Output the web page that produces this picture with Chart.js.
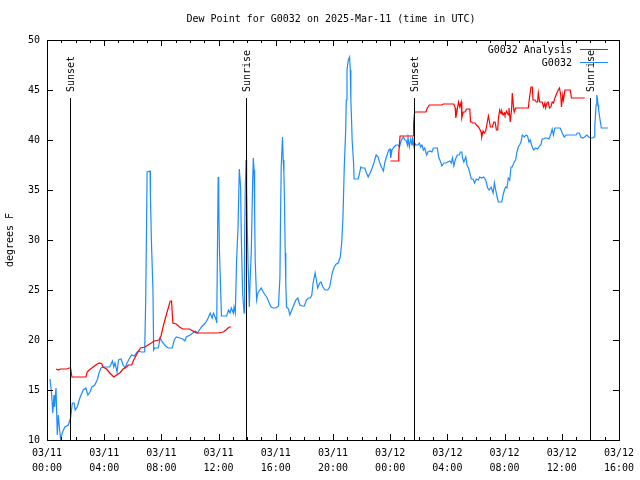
<!DOCTYPE html>
<html>
<head>
<meta charset="utf-8">
<script src="https://cdn.jsdelivr.net/npm/chart.js@4/dist/chart.umd.min.js"></script>
<style>
  html, body { margin: 0; padding: 0; background: #fff; }
</style>
</head>
<body>
<canvas id="myChart" width="640" height="480"></canvas>
<script>
// time is hours since 03/11 00:00 UTC
var chartTitle = 'Dew Point for G0032 on 2025-Mar-11 (time in UTC)';
var tickDates = ['03/11', '03/11', '03/11', '03/11', '03/11', '03/11', '03/12', '03/12', '03/12', '03/12', '03/12'];
var tickTimes = ['00:00', '04:00', '08:00', '12:00', '16:00', '20:00', '00:00', '04:00', '08:00', '12:00', '16:00'];

var sunTimes = [1.62, 13.94, 25.64, 37.98];
var sunLabels = ['Sunset', 'Sunrise', 'Sunset', 'Sunrise'];

// G0032 observations [hour, degF]
var stationObs = [
  [0.21,16.1],[0.33,14.5],[0.40,12.7],[0.49,14.5],[0.53,13.3],[0.63,15.2],[0.72,10.5],[0.79,12.5],[0.86,11.3],[0.95,10.1],
  [1.09,10.8],[1.25,11.3],[1.49,11.5],[1.65,12.2],[1.77,13.7],[1.90,13.7],[1.97,13.0],[2.11,13.3],[2.30,14.2],[2.53,15.0],
  [2.72,15.2],[2.86,14.5],[3.00,14.8],[3.14,15.3],[3.34,15.5],[3.51,16.0],[3.64,16.7],[3.78,17.2],[3.92,17.3],[4.16,17.3],
  [4.39,17.3],[4.58,17.9],[4.67,17.3],[4.76,17.7],[4.90,16.8],[5.00,18.0],[5.18,18.1],[5.32,17.5],[5.46,17.2],[5.60,17.7],
  [5.78,18.2],[5.92,18.5],[6.11,18.4],[6.25,18.7],[6.39,18.9],[6.60,18.8],[6.83,18.8],[6.90,23.7],[6.97,32.3],[7.00,36.8],
  [7.21,36.9],[7.23,34.7],[7.30,30.0],[7.41,25.0],[7.46,19.0],[7.53,19.2],[7.78,19.2],[7.92,20.2],[8.06,19.8],[8.29,19.4],
  [8.48,19.2],[8.76,19.2],[8.90,20.0],[9.04,20.3],[9.27,20.2],[9.50,20.1],[9.64,19.9],[9.74,20.3],[10.01,20.5],[10.20,20.7],
  [10.38,20.9],[10.52,20.7],[10.66,21.0],[10.80,21.3],[10.94,21.5],[11.13,21.8],[11.27,22.2],[11.41,22.7],[11.55,22.2],[11.64,22.7],
  [11.73,22.4],[11.83,22.0],[11.87,21.7],[11.97,36.3],[12.01,34.0],[12.06,29.0],[12.20,22.4],[12.56,22.4],[12.70,23.0],[12.80,22.7],
  [12.89,23.2],[13.03,22.7],[13.08,23.3],[13.17,22.7],[13.26,28.0],[13.36,31.3],[13.45,37.1],[13.54,35.3],[13.59,30.3],[13.68,24.7],
  [13.78,22.7],[13.82,30.3],[13.87,35.3],[13.92,38.0],[13.96,35.5],[14.01,31.0],[14.06,27.7],[14.15,23.3],[14.20,25.7],[14.29,29.0],
  [14.38,35.7],[14.43,38.2],[14.48,37.0],[14.52,33.0],[14.56,28.0],[14.66,24.0],[14.75,24.7],[14.98,25.2],[15.12,24.8],[15.26,24.5],
  [15.40,24.2],[15.54,23.7],[15.68,23.3],[15.82,23.2],[16.01,23.2],[16.19,23.4],[16.29,26.3],[16.33,32.0],[16.38,37.3],[16.47,40.3],
  [16.52,38.0],[16.57,36.7],[16.61,33.7],[16.66,28.7],[16.70,25.7],[16.75,23.3],[16.89,23.1],[16.98,22.5],[17.12,23.0],[17.26,23.5],
  [17.40,24.0],[17.54,24.2],[17.68,23.5],[17.82,23.4],[18.00,23.4],[18.14,24.0],[18.28,24.2],[18.42,24.2],[18.52,24.5],[18.61,25.7],
  [18.75,26.7],[18.84,26.0],[18.93,25.2],[19.07,25.7],[19.16,25.8],[19.30,25.3],[19.44,25.0],[19.63,25.0],[19.77,25.3],[19.86,26.0],
  [19.95,26.7],[20.09,27.3],[20.23,27.6],[20.37,27.7],[20.51,28.3],[20.61,29.7],[20.70,32.3],[20.79,37.3],[20.89,41.0],[20.93,44.0],
  [20.98,47.0],[21.07,48.0],[21.16,48.3],[21.21,47.0],[21.25,44.0],[21.30,42.0],[21.34,40.0],[21.44,37.7],[21.48,36.1],[21.76,36.1],
  [21.86,36.7],[21.95,37.3],[22.04,37.2],[22.23,37.2],[22.32,36.8],[22.46,36.3],[22.60,36.7],[22.74,37.2],[22.88,37.8],[23.02,38.5],
  [23.16,38.3],[23.25,37.8],[23.39,37.3],[23.53,36.9],[23.62,37.7],[23.76,38.4],[23.90,39.0],[23.99,39.1],[24.04,38.2],[24.13,39.0],
  [24.27,39.3],[24.41,39.5],[24.55,39.5],[24.65,39.3],[24.74,39.8],[24.83,40.1],[24.93,40.3],[25.02,40.0],[25.11,40.0],[25.21,39.5],
  [25.25,40.2],[25.34,39.3],[25.44,40.1],[25.53,39.5],[25.57,40.3],[25.67,39.3],[25.76,39.6],[25.81,39.5],[25.94,39.5],[26.04,39.7],
  [26.13,39.3],[26.22,39.5],[26.32,39.0],[26.41,39.2],[26.55,38.5],[26.64,38.8],[26.78,38.9],[26.92,38.8],[27.02,39.2],[27.30,39.2],
  [27.39,38.3],[27.53,37.8],[27.62,37.4],[27.76,37.7],[27.90,37.7],[28.03,37.8],[28.17,37.9],[28.27,37.7],[28.36,38.2],[28.45,37.4],
  [28.55,38.0],[28.69,38.5],[28.83,38.5],[28.92,38.8],[29.01,38.8],[29.06,38.2],[29.15,37.8],[29.29,38.3],[29.39,37.4],[29.48,37.2],
  [29.57,36.7],[29.67,36.1],[29.80,36.1],[29.90,35.7],[30.03,36.1],[30.17,36.0],[30.26,36.3],[30.40,36.2],[30.54,36.3],[30.68,36.0],
  [30.82,35.2],[30.92,35.0],[31.06,35.3],[31.20,34.7],[31.29,35.7],[31.38,35.0],[31.48,34.3],[31.57,33.8],[31.80,33.8],[31.90,34.5],
  [31.99,35.0],[32.08,35.3],[32.17,35.2],[32.26,36.2],[32.36,36.0],[32.45,37.3],[32.54,37.3],[32.68,37.8],[32.77,38.0],[32.87,38.8],
  [32.96,39.3],[33.05,39.5],[33.15,39.8],[33.24,40.5],[33.38,40.3],[33.52,40.5],[33.61,40.4],[33.71,39.8],[33.80,40.0],[33.89,39.5],
  [34.03,39.0],[34.17,39.2],[34.31,39.1],[34.45,39.4],[34.54,39.5],[34.63,40.1],[34.73,40.1],[34.82,40.2],[34.96,40.2],[35.10,40.1],
  [35.24,40.6],[35.33,41.1],[35.42,40.5],[35.52,41.2],[35.89,41.2],[36.03,40.7],[36.17,40.3],[36.31,40.5],[36.68,40.5],[37.00,40.5],
  [37.09,40.7],[37.23,40.7],[37.33,40.3],[37.47,40.2],[37.61,40.3],[37.75,40.5],[37.89,40.3],[38.03,40.2],[38.17,40.2],[38.26,40.3],
  [38.31,41.3],[38.35,42.3],[38.40,43.5],[38.45,44.5],[38.49,44.2],[38.54,43.5],[38.58,43.0],[38.68,42.0],[38.77,41.2],[39.23,41.2]
];

// G0032 Analysis [hour, degF], null = no analysis
var analysisObs = [
  [0.63,17.1],[0.79,17.0],[0.95,17.1],[1.37,17.1],[1.55,17.2],[1.65,17.2],[1.74,16.3],[2.72,16.3],[2.81,16.8],[2.95,17.0],
  [3.23,17.3],[3.51,17.6],[3.69,17.7],[3.83,17.6],[3.92,17.3],[4.16,17.1],[4.39,16.7],[4.67,16.3],[4.86,16.5],[5.09,16.7],
  [5.32,17.1],[5.55,17.3],[5.69,17.5],[5.92,17.5],[6.06,18.0],[6.29,18.6],[6.53,19.2],[6.85,19.3],[7.18,19.6],[7.51,19.9],
  [7.83,20.0],[7.97,20.4],[8.15,21.5],[8.38,22.7],[8.62,23.9],[8.71,23.9],[8.80,21.7],[9.04,21.6],[9.27,21.3],[9.50,21.1],
  [9.97,21.1],[10.20,20.9],[10.43,20.7],[11.94,20.7],[12.33,20.8],[12.52,21.0],[12.66,21.2],[12.75,21.3],[12.89,21.3],
  [18.00,null],
  [24.02,37.9],[24.55,37.9],[24.60,38.7],[24.69,40.4],[25.62,40.4],[25.64,41.7],[25.71,42.8],[26.50,42.8],[26.60,43.2],[26.74,43.5],
  [27.62,43.5],[27.71,43.6],[28.45,43.6],[28.55,43.2],[28.59,42.2],[28.69,43.0],[28.78,43.8],[28.87,43.3],[28.97,43.8],[29.01,42.2],
  [29.11,42.8],[29.25,42.8],[29.34,43.1],[29.57,43.1],[29.62,41.8],[29.71,41.8],[29.76,41.7],[29.94,41.7],[30.03,41.5],[30.17,41.3],
  [30.26,41.1],[30.36,40.8],[30.40,40.3],[30.50,40.9],[30.59,40.7],[30.68,40.9],[30.78,41.7],[30.87,42.4],[30.96,41.7],[31.01,41.3],
  [31.15,41.3],[31.24,41.8],[31.34,41.8],[31.43,41.0],[31.52,41.0],[31.57,42.2],[31.66,43.0],[31.76,42.6],[31.80,42.9],[31.90,42.5],
  [31.99,42.7],[32.03,42.5],[32.14,42.9],[32.26,42.5],[32.31,43.2],[32.40,41.8],[32.49,43.0],[32.54,44.7],[32.63,43.2],[32.68,42.8],
  [32.77,43.2],[33.66,43.2],[33.75,44.3],[33.85,45.3],[33.94,45.3],[33.99,44.0],[34.13,44.0],[34.22,43.8],[34.31,43.8],[34.36,44.7],
  [34.45,43.8],[34.63,43.8],[34.73,43.3],[34.82,43.7],[34.87,43.2],[34.96,43.7],[35.05,43.8],[35.14,43.2],[35.24,43.3],[35.33,43.8],
  [35.42,43.7],[35.52,44.2],[35.66,44.7],[35.75,45.0],[35.84,45.2],[35.93,44.5],[35.98,43.3],[36.07,44.5],[36.12,44.0],[36.22,45.0],
  [36.59,45.0],[36.68,44.2],[37.61,44.2]
];

var FONT = '"DejaVu Sans Mono", "Liberation Mono", monospace';

function toPoints(arr) {
  return arr.map(function (p) { return { x: p[0], y: p[1] }; });
}

// gnuplot look: inward ticks on all four sides, sun markers, title, inside key
var gnuplotDecor = {
  id: 'gnuplotDecor',
  afterDatasetsDraw: function (chart) {
    var ctx = chart.ctx, a = chart.chartArea;
    var xs = chart.scales.x, ys = chart.scales.y;
    var c = function (v) { return Math.round(v) + 0.5; };
    ctx.save();
    ctx.strokeStyle = '#000';
    ctx.fillStyle = '#000';
    ctx.lineWidth = 1;

    ctx.beginPath();
    for (var h = xs.min; h <= xs.max; h++) {
      var len = h % 4 === 0 ? 6 : 3;
      var xx = c(xs.getPixelForValue(h));
      ctx.moveTo(xx, a.bottom); ctx.lineTo(xx, a.bottom - len);
      ctx.moveTo(xx, a.top); ctx.lineTo(xx, a.top + len);
    }
    ys.ticks.forEach(function (t) {
      var yy = c(ys.getPixelForValue(t.value));
      ctx.moveTo(a.left, yy); ctx.lineTo(a.left + 6, yy);
      ctx.moveTo(a.right, yy); ctx.lineTo(a.right - 6, yy);
    });
    ctx.stroke();

    // sunrise / sunset markers
    var topY = ys.getPixelForValue(44.2);
    ctx.font = '10px ' + FONT;
    sunTimes.forEach(function (t, i) {
      var xx = c(xs.getPixelForValue(t));
      ctx.beginPath();
      ctx.moveTo(xx, topY); ctx.lineTo(xx, a.bottom);
      ctx.stroke();
      ctx.save();
      ctx.translate(xx + 1, topY - 6);
      ctx.rotate(-Math.PI / 2);
      ctx.textAlign = 'left';
      ctx.textBaseline = 'middle';
      ctx.fillText(sunLabels[i], 0, 0);
      ctx.restore();
    });

    // frame
    ctx.strokeRect(c(a.left), c(a.top), Math.round(a.right - a.left), Math.round(a.bottom - a.top));

    // key
    ctx.textAlign = 'right';
    ctx.textBaseline = 'middle';
    chart.data.datasets.forEach(function (ds, i) {
      var yy = a.top + 10 + i * 13;
      ctx.fillStyle = '#000';
      ctx.fillText(ds.label, a.right - 47, yy);
      ctx.strokeStyle = ds.borderColor;
      ctx.beginPath();
      ctx.moveTo(a.right - 39, c(yy - 1)); ctx.lineTo(a.right - 11, c(yy - 1));
      ctx.stroke();
    });

    // title
    ctx.fillStyle = '#000';
    ctx.textAlign = 'center';
    ctx.fillText(chartTitle, (a.left + a.right) / 2 - 2, 19);
    ctx.restore();
  }
};

var ctx = document.getElementById('myChart').getContext('2d');

var myChart = new Chart(ctx, {
  type: 'line',
  data: {
    datasets: [
      {
        label: 'G0032 Analysis',
        data: toPoints(analysisObs),
        borderColor: '#ff0000',
        borderWidth: 1.2,
        pointRadius: 0,
        tension: 0,
        spanGaps: false
      },
      {
        label: 'G0032',
        data: toPoints(stationObs),
        borderColor: '#1e8cff',
        borderWidth: 1.2,
        pointRadius: 0,
        tension: 0
      }
    ]
  },
  options: {
    responsive: false,
    animation: false,
    events: [],
    layout: { padding: { top: 40, right: 19, left: 0, bottom: 0 } },
    plugins: {
      legend: { display: false },
      title: { display: false },
      tooltip: { enabled: false }
    },
    scales: {
      x: {
        type: 'linear',
        min: 0,
        max: 40,
        afterFit: function (s) { s.height = 40; },
        grid: { display: false, drawTicks: false },
        border: { display: false },
        ticks: {
          stepSize: 4,
          autoSkip: false,
          maxRotation: 0,
          padding: 6,
          color: '#000',
          font: { family: FONT, size: 10, lineHeight: 1.5 },
          callback: function (value) {
            var i = Math.round(value / 4);
            return [tickDates[i], tickTimes[i]];
          }
        }
      },
      y: {
        min: 10,
        max: 50,
        afterFit: function (s) { s.width = 47; },
        grid: { display: false, drawTicks: false },
        border: { display: false },
        ticks: {
          stepSize: 5,
          padding: 7,
          color: '#000',
          font: { family: FONT, size: 10 }
        },
        title: {
          display: true,
          text: 'degrees F',
          color: '#000',
          font: { family: FONT, size: 10 },
          padding: { top: 4, bottom: 0 }
        }
      }
    }
  },
  plugins: [gnuplotDecor]
});
</script>
</body>
</html>
